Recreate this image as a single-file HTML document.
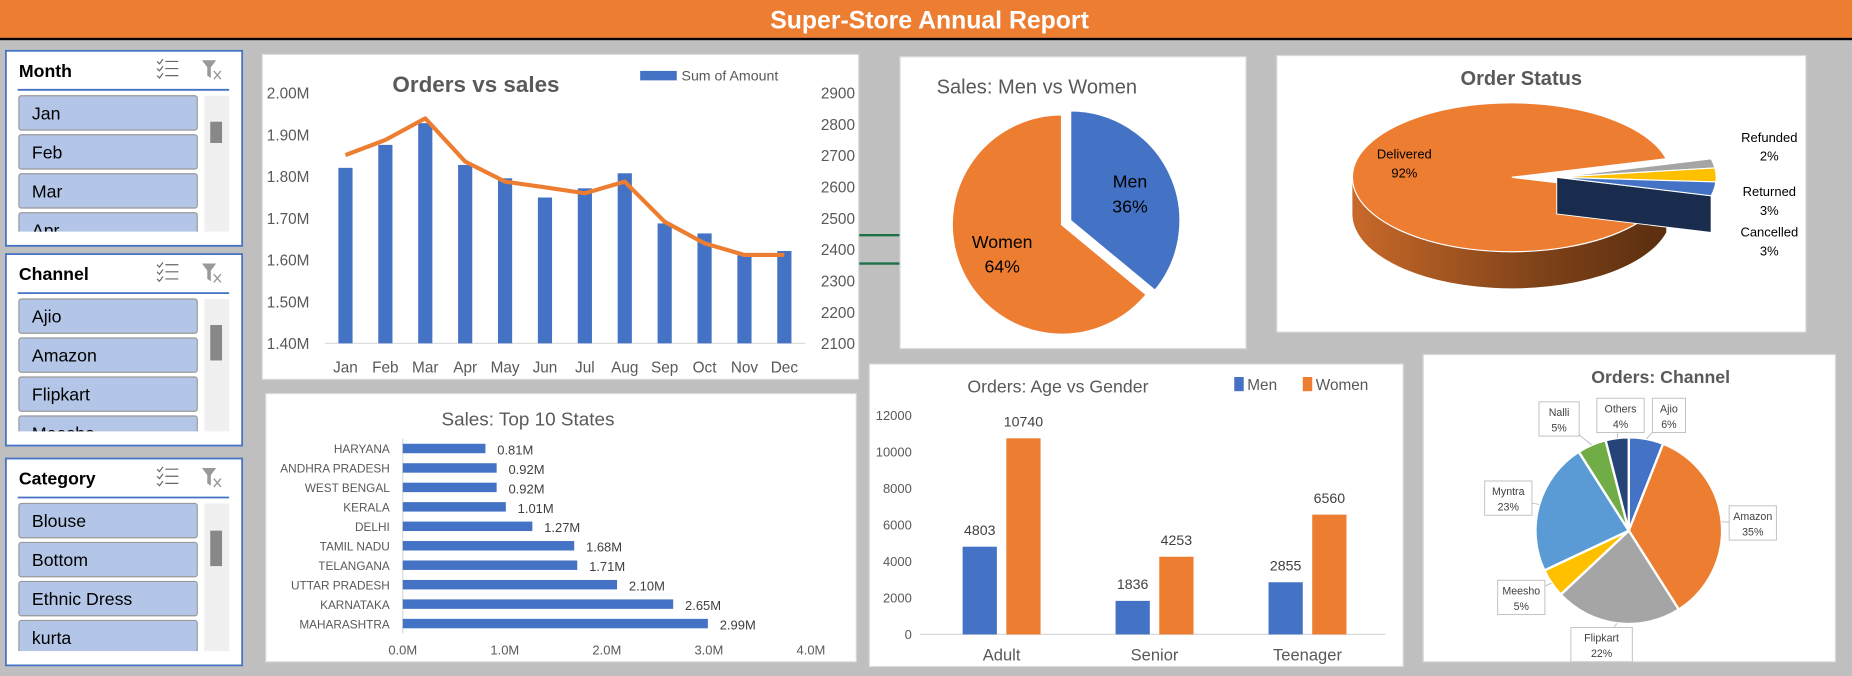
<!DOCTYPE html>
<html><head><meta charset="utf-8"><style>
html,body{margin:0;padding:0;background:#BFBFBF;overflow:hidden}
svg{display:block;font-family:"Liberation Sans Narrow","Liberation Sans",sans-serif}
</style></head><body>
<svg id="root" width="1852" height="676" viewBox="0 0 1568 572" preserveAspectRatio="none" xmlns="http://www.w3.org/2000/svg">
<defs>
<linearGradient id="sideGrad" x1="0" x2="1" y1="0" y2="0">
<stop offset="0" stop-color="#C8692A"/><stop offset="0.6" stop-color="#7E4218"/><stop offset="1" stop-color="#5A2E10"/>
</linearGradient>
</defs>
<rect x="0" y="0" width="1568" height="572" fill="#BFBFBF"/>
<g>
<rect x="0" y="0" width="1568" height="32" fill="#ED7D31"/>
<rect x="0" y="32" width="1568" height="2" fill="#000"/>
<text x="787" y="24" text-anchor="middle" font-size="21" font-weight="bold" fill="#fff">Super-Store Annual Report</text>
</g>
<g>
<rect x="727" y="198" width="35" height="2" fill="#1E7145"/>
<rect x="727" y="222" width="35" height="2" fill="#1E7145"/>
</g>
<g id="slicers"></g>
<g>
<rect x="222" y="46" width="505" height="275" fill="#fff" stroke="#D9D9D9"/>
<text x="403" y="78" text-anchor="middle" font-size="19" font-weight="bold" fill="#595959">Orders vs sales</text>
<rect x="542" y="60" width="31" height="8" fill="#4472C4"/>
<text x="577" y="68" font-size="12" fill="#595959">Sum of Amount</text>
<line x1="275" y1="290.5" x2="682" y2="290.5" stroke="#D9D9D9"/>
<g id="os"></g>
</g>
<g>
<rect x="762" y="48" width="293" height="247" fill="#fff" stroke="#D9D9D9"/>
<text x="793" y="79" font-size="17" fill="#595959">Sales: Men vs Women</text>
<g id="mw"></g>
</g>
<g>
<rect x="1081" y="47" width="448" height="234" fill="#fff" stroke="#D9D9D9"/>
<text x="1288" y="72" text-anchor="middle" font-size="17" font-weight="bold" fill="#595959">Order Status</text>
<g id="st"></g>
</g>
<g>
<rect x="225" y="333" width="500" height="227" fill="#fff" stroke="#D9D9D9"/>
<text x="447" y="360" text-anchor="middle" font-size="16" fill="#595959">Sales: Top  10 States</text>
<line x1="341" y1="371" x2="341" y2="536" stroke="#D9D9D9"/>
<g id="ts"></g>
</g>
<g>
<rect x="736" y="308" width="452" height="256" fill="#fff" stroke="#D9D9D9"/>
<text x="819" y="332" font-size="15" fill="#595959">Orders: Age vs Gender</text>
<rect x="1045" y="319" width="8" height="12" fill="#4472C4"/>
<text x="1056" y="330" font-size="13" fill="#595959">Men</text>
<rect x="1103" y="319" width="8" height="12" fill="#ED7D31"/>
<text x="1114" y="330" font-size="13" fill="#595959">Women</text>
<line x1="779" y1="536.8" x2="1173" y2="536.8" stroke="#D9D9D9"/>
<g id="ag"></g>
</g>
<g>
<rect x="1205" y="300" width="349" height="260" fill="#fff" stroke="#D9D9D9"/>
<text x="1406" y="324" text-anchor="middle" font-size="15" font-weight="bold" fill="#595959">Orders: Channel</text>
<g id="ch"></g>
</g>
</svg>
<script>
// ---- data ----
const months = ["Jan","Feb","Mar","Apr","May","Jun","Jul","Aug","Sep","Oct","Nov","Dec"];
const salesM = [1.82,1.875,1.927,1.827,1.795,1.749,1.771,1.807,1.687,1.663,1.611,1.621];
const ordersCount = [2701,2749,2818,2680,2616,2598,2579,2616,2488,2419,2382,2382];
const salesTicks = ["2.00M","1.90M","1.80M","1.70M","1.60M","1.50M","1.40M"];
const salesTickVals = [2.0,1.9,1.8,1.7,1.6,1.5,1.4];
const orderTickVals = [2900,2800,2700,2600,2500,2400,2300,2200,2100];

const genderLabels = ["Men","Women"];
const genderPct = [36,64];

const statusLabels = ["Delivered","Refunded","Returned","Cancelled"];
const statusPct = [92,2,3,3];

const states = ["HARYANA","ANDHRA PRADESH","WEST BENGAL","KERALA","DELHI","TAMIL NADU","TELANGANA","UTTAR PRADESH","KARNATAKA","MAHARASHTRA"];
const stateSales = [0.81,0.92,0.92,1.01,1.27,1.68,1.71,2.10,2.65,2.99];
const stateTicks = [0,1,2,3,4];

const ageGroups = ["Adult","Senior","Teenager"];
const menOrders = [4803,1836,2855];
const womenOrders = [10740,4253,6560];
const ageTicks = [0,2000,4000,6000,8000,10000,12000];

const channels = ["Ajio","Amazon","Flipkart","Meesho","Myntra","Nalli","Others"];
const channelPct = [6,35,22,5,23,5,4];

const NS="http://www.w3.org/2000/svg";
function mk(tag, attrs, parent, txt){
  const e=document.createElementNS(NS,tag);
  for(const k in attrs) e.setAttribute(k,attrs[k]);
  if(txt!==undefined) e.textContent=txt;
  parent.appendChild(e); return e;
}
const G=id=>document.getElementById(id);

// ---- slicers ----
const slicerDefs=[
 {title:"Month",y:43,h:165,items:["Jan","Feb","Mar","Apr"],thumb:[103,121]},
 {title:"Channel",y:215,h:162,items:["Ajio","Amazon","Flipkart","Meesho"],thumb:[275,305]},
 {title:"Category",y:388,h:175,items:["Blouse","Bottom","Ethnic Dress","kurta"],thumb:[449,479]}
];
const sl=G("slicers");
slicerDefs.forEach(d=>{
  const g=mk("g",{},sl);
  
  
  mk("rect",{x:5,y:d.y,width:200,height:d.h,fill:"#fff",stroke:"#4472C4","stroke-width":1.5},g);
  const t=mk("text",{x:16,y:d.y+22,"font-size":15,"font-weight":"bold",fill:"#000"},g,d.title);
  
  
  const ms=mk("g",{stroke:"#666","stroke-width":1,fill:"none"},g);
  
  
  for(let k=0;k<3;k++){
    const yy=d.y+9+k*6;
    mk("path",{d:`M133 ${yy} l2 2 l3 -4 M140 ${yy} h11`},ms);
  }
  const cf=mk("g",{},g);
  
  
  mk("path",{d:`M171 ${d.y+8} h12 l-4.5 6 v9 l-3 -2 v-7 z`,fill:"#999"},cf);
  mk("path",{d:`M181 ${d.y+17} l6 7 M187 ${d.y+17} l-6 7`,stroke:"#999","stroke-width":1.2},cf);
  mk("line",{x1:15,y1:d.y+33,x2:194,y2:d.y+33,stroke:"#4472C4","stroke-width":1.5},g);
  const clipId="clip"+d.title;
  const cp=mk("clipPath",{id:clipId},g);
  mk("rect",{x:10,y:d.y+37,width:165,height:d.h-49},cp);
  const ig=mk("g",{"clip-path":`url(#${clipId})`},g);
  d.items.forEach((it,i)=>{
    const by=d.y+38+i*33;
    const b=mk("g",{},ig);
    
    
    mk("rect",{x:16,y:by,width:151,height:29,rx:2,fill:"#B4C6E7",stroke:"#999"},b);
    mk("text",{x:27,y:by+20,"font-size":15,fill:"#000"},b,it);
  });
  const sb=mk("rect",{x:173,y:d.y+38,width:21,height:d.h-50,fill:"#F0F0F0"},g);
  
  
  const th=mk("rect",{x:178,y:d.thumb[0],width:10,height:d.thumb[1]-d.thumb[0],fill:"#888"},g);
  
  
});

// ---- orders vs sales ----
const os=G("os");
const osX=i=>292.5+i*33.78;
const osY=v=>78.4+(2.0-v)/0.6*212.1;
const osY2=v=>78.4+(2900-v)/800*212.1;
salesTicks.forEach((lab,i)=>{
  const t=mk("text",{x:262,y:osY(salesTickVals[i])+5,"text-anchor":"end","font-size":13,fill:"#595959"},os,lab);
  
  
});
orderTickVals.forEach(v=>{
  const t=mk("text",{x:695,y:osY2(v)+5,"font-size":13,fill:"#595959"},os,String(v));
  
  
});
months.forEach((m,i)=>{
  const b=mk("rect",{x:osX(i)-6,y:osY(salesM[i]),width:12,height:290.5-osY(salesM[i]),fill:"#4472C4"},os);
  
  
  const t=mk("text",{x:osX(i),y:315,"text-anchor":"middle","font-size":13,fill:"#595959"},os,m);
  
  
});
const pl=mk("polyline",{points:ordersCount.map((v,i)=>osX(i)+","+osY2(v)).join(" "),fill:"none",stroke:"#ED7D31","stroke-width":3.5,"stroke-linejoin":"round"},os);



// ---- helpers for pies ----
function pt(cx,cy,rx,ry,deg){const a=deg*Math.PI/180;return [cx+rx*Math.sin(a),cy-ry*Math.cos(a)];}
function sector(cx,cy,rx,ry,a0,a1){
  const p0=pt(cx,cy,rx,ry,a0),p1=pt(cx,cy,rx,ry,a1);
  const large=(a1-a0)>180?1:0;
  return `M${cx} ${cy} L${p0[0]} ${p0[1]} A${rx} ${ry} 0 ${large} 1 ${p1[0]} ${p1[1]} Z`;
}

// ---- men vs women ----
const mw=G("mw");
{
  const cx=899,cy=190,r=93;const colors=["#4472C4","#ED7D31"];
  let a=0;const tot=genderPct.reduce((s,v)=>s+v,0);
  genderPct.forEach((v,i)=>{
    const sweep=v/tot*360;const mid=a+sweep/2;
    const off=i===0?8:0;const o=pt(0,0,off,off,mid);
    const p=mk("path",{d:sector(cx+o[0],cy+o[1],r,r,a,a+sweep),fill:colors[i],stroke:"#fff","stroke-width":1.5},mw);
    
    
    const lp=pt(cx+o[0],cy+o[1],r*0.6,r*0.6,mid);
    const t=mk("text",{x:lp[0],y:lp[1]-4,"text-anchor":"middle","font-size":15,fill:"#000"},mw);
    
    
    mk("tspan",{x:lp[0]},t,genderLabels[i]);
    mk("tspan",{x:lp[0],dy:21},t,v+"%");
    a+=sweep;
  });
}

// ---- order status (3D) ----
const st=G("st");
{
  const cx=1280,cy=150,rx=135,ry=63,dep=31;
  const tot=statusPct.reduce((s,v)=>s+v,0);
  const small=(tot-statusPct[0])/tot*360;
  const start=90+small/2;
  const end=start+statusPct[0]/tot*360;
  const sA=Math.max(start,90), eA=270;
  const p0=pt(cx,cy,rx,ry,sA),p1=pt(cx,cy,rx,ry,eA);
  const side=mk("path",{d:`M${p0[0]} ${p0[1]} L${p0[0]} ${p0[1]+dep} A${rx} ${ry} 0 0 1 ${p1[0]} ${p1[1]+dep} L${p1[0]} ${p1[1]} A${rx} ${ry} 0 0 0 ${p0[0]} ${p0[1]} Z`,fill:"url(#sideGrad)"},st);
  
  
  const top=mk("path",{d:sector(cx,cy,rx,ry,start,end),fill:"#ED7D31",stroke:"#fff","stroke-width":1},st);
  
  
  const colors=["#A5A5A5","#FFC000","#4472C4"];
  const sides=["#7F7F7F","#BF9000","#1A2C4E"];
  let a=end-360;const dx=38;
  for(let i=1;i<statusPct.length;i++){
    const sw=statusPct[i]/tot*360;
    const q0=pt(cx+dx,cy,rx,ry,a+sw);
    if(i===statusPct.length-1){
      const sd=mk("path",{d:`M${cx+dx} ${cy} L${q0[0]} ${q0[1]} L${q0[0]} ${q0[1]+dep} L${cx+dx} ${cy+dep} Z`,fill:sides[i-1],stroke:"#fff","stroke-width":0.8},st);
      
      
    }
    const p=mk("path",{d:sector(cx+dx,cy,rx,ry,a,a+sw),fill:colors[i-1],stroke:"#fff","stroke-width":1},st);
    
    
    a+=sw;
  }
  const labPos=[[1189,134],[1498,120],[1498,166],[1498,200]];
  statusLabels.forEach((l,i)=>{
    const t=mk("text",{x:labPos[i][0],y:labPos[i][1],"text-anchor":"middle","font-size":11,fill:"#000"},st);
    
    
    mk("tspan",{x:labPos[i][0]},t,l);
    mk("tspan",{x:labPos[i][0],dy:16},t,statusPct[i]+"%");
  });
}

// ---- top states ----
const ts=G("ts");
const tsX=v=>341+v*86.4;
const tsY=i=>379.5+i*16.46;
states.forEach((s,i)=>{
  const t=mk("text",{x:330,y:tsY(i)+4,"text-anchor":"end","font-size":10,fill:"#595959"},ts,s);
  
  
  const b=mk("rect",{x:341,y:tsY(i)-4,width:tsX(stateSales[i])-341,height:8,fill:"#4472C4"},ts);
  
  
  const v=mk("text",{x:tsX(stateSales[i])+10,y:tsY(i)+5,"font-size":11,fill:"#404040"},ts,stateSales[i].toFixed(2)+"M");
  
  
});
stateTicks.forEach(v=>{
  const t=mk("text",{x:tsX(v),y:554,"text-anchor":"middle","font-size":11,fill:"#595959"},ts,v.toFixed(1)+"M");
  
  
});

// ---- age vs gender ----
const ag=G("ag");
const agY=v=>536.8-v/12000*185.4;
const agC=i=>848+i*129.5;
ageTicks.forEach(v=>{
  const t=mk("text",{x:772,y:agY(v)+4,"text-anchor":"end","font-size":11,fill:"#595959"},ag,String(v));
  
  
});
ageGroups.forEach((g,i)=>{
  const c=agC(i);
  [[menOrders,"#4472C4",-33,"men"],[womenOrders,"#ED7D31",4,"women"]].forEach(([arr,col,off,nm])=>{
    const b=mk("rect",{x:c+off,y:agY(arr[i]),width:29,height:536.8-agY(arr[i]),fill:col},ag);
    
    
    const t=mk("text",{x:c+off+14.5,y:agY(arr[i])-10,"text-anchor":"middle","font-size":12,fill:"#404040"},ag,String(arr[i]));
    
    
  });
  const t=mk("text",{x:c,y:559,"text-anchor":"middle","font-size":14,fill:"#595959"},ag,g);
  
  
});

// ---- channel pie ----
const ch=G("ch");
{
  const cx=1379,cy=449,r=79;
  const cols=["#4472C4","#ED7D31","#A5A5A5","#FFC000","#5B9BD5","#70AD47","#264478"];
  const boxes=[[1413,351],[1484,442],[1356,545],[1288,505],[1277,421],[1320,354],[1372,351]];
  const tot=channelPct.reduce((s,v)=>s+v,0);
  let a=0;
  channelPct.forEach((v,i)=>{
    const sw=v/tot*360;const mid=a+sw/2;
    const p=mk("path",{d:sector(cx,cy,r,r,a,a+sw),fill:cols[i],stroke:"#fff","stroke-width":2},ch);
    
    
    const e=pt(cx,cy,r,r,mid);const bx=boxes[i];
    const ln=mk("line",{x1:e[0],y1:e[1],x2:bx[0],y2:bx[1],stroke:"#BFBFBF","stroke-width":0.8},ch);
    
    
    const w=Math.max(26,channels[i].length*6+4);
    const g=mk("g",{},ch);
    
    
    mk("rect",{x:bx[0]-w/2,y:bx[1]-14,width:w,height:29,fill:"#fff",stroke:"#BFBFBF","stroke-width":0.8},g);
    mk("text",{x:bx[0],y:bx[1]-2,"text-anchor":"middle","font-size":9,fill:"#404040"},g,channels[i]);
    mk("text",{x:bx[0],y:bx[1]+11,"text-anchor":"middle","font-size":9,fill:"#404040"},g,v+"%");
    a+=sw;
  });
}
</script>
</body></html>
